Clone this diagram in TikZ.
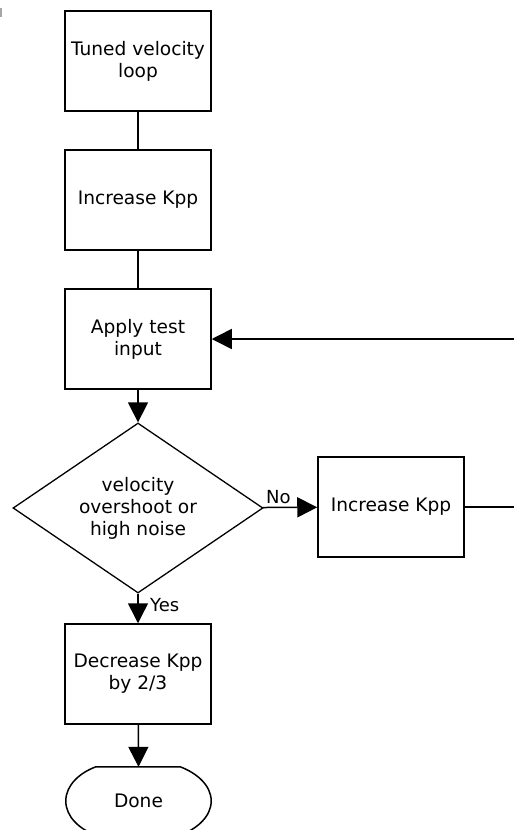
\documentclass[tikz,border=0pt]{standalone}
\usepackage{fontspec}
\setmainfont{DejaVu Sans}
\usetikzlibrary{arrows.meta,shapes.geometric}
\begin{document}
\begin{tikzpicture}[x=1pt,y=-1pt,
  every node/.style={font=\fontsize{18.6}{22}\selectfont, inner sep=0pt},
  box/.style={draw, line width=1.5pt, minimum width=146pt, minimum height=100pt, align=center},
  decision/.style={draw, line width=1.3pt, diamond, aspect=1.47, minimum width=250pt, minimum height=170pt, align=center},
  link/.style={line width=1.5pt},
  flow/.style={link, -{Triangle[length=20pt,width=20pt]}},
  tag/.style={font=\fontsize{18}{21}\selectfont}]
\useasboundingbox (0,0) rectangle (514,830);
\clip (0,0) rectangle (514,830);

% small mark at the upper left edge
\draw[gray!70, line width=2pt] (1,8) -- (1,17);

% main column
\node[box] (tuned) at (138,61) {Tuned velocity\\loop};
\node[box] (inc1) at (138,200) {Increase Kpp};
\node[box] (apply) at (138,339) {Apply test\\input};
\node[decision] (test) at (138,508) {velocity\\overshoot or\\high noise};
\node[box] (inc2) at (391,507) {Increase Kpp};
\node[box] (dec) at (138,674) {Decrease Kpp\\by 2/3};

% terminal shape
\node[minimum width=145pt, minimum height=68pt] (done) at (138.5,801) {Done};
\draw[line width=1.5pt]
  ([xshift=30pt]done.north west) -- ([xshift=-31pt]done.north east)
  .. controls +(16,6) and +(0,-16) .. (done.east)
  .. controls +(0,16) and +(16,-6) .. ([xshift=-31pt]done.south east)
  -- ([xshift=30pt]done.south west)
  .. controls +(-16,-6) and +(0,16) .. (done.west)
  .. controls +(0,-16) and +(-16,6) .. ([xshift=30pt]done.north west) -- cycle;

% connectors
\draw[link] (tuned) -- (inc1);
\draw[link] (inc1) -- (apply);
\draw[flow] (apply) -- (test);
\draw[flow] (test) -- (inc2);
\node[tag, anchor=south west] (nolabel) at (266,504) {No};
\draw[flow] (test) -- (dec);
\node[tag, anchor=west] (yeslabel) at (150,605) {Yes};
\draw[flow] (dec) -- (done.north);

% loop back to the test input
\coordinate (turn) at (560,507);
\draw[flow] (inc2.east) -- (turn) |- (apply.east);
\end{tikzpicture}
\end{document}
